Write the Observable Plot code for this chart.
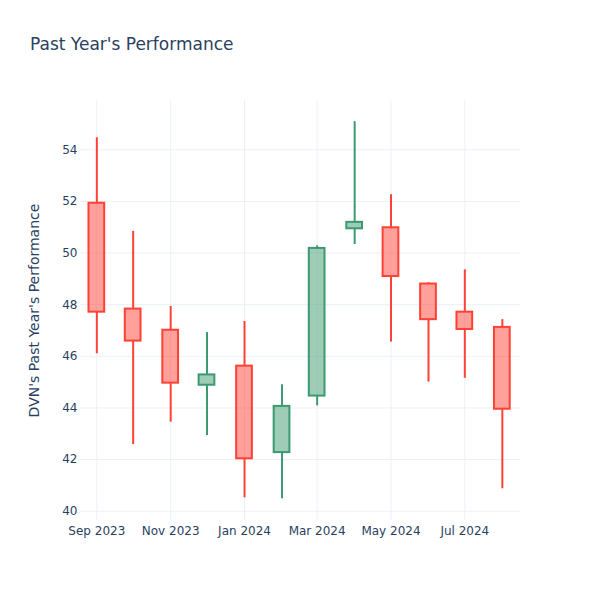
<!DOCTYPE html>
<html><head><meta charset="utf-8">
<script src="https://cdn.jsdelivr.net/npm/d3@7"></script>
<script src="https://cdn.jsdelivr.net/npm/@observablehq/plot@0.6"></script>
<style>
body{margin:0;background:#fff;}
#wrap{position:relative;width:600px;height:600px;}
#title{position:absolute;left:30px;top:34px;font-family:"DejaVu Sans",sans-serif;font-size:17px;color:#2a3f5f;white-space:nowrap;}
</style></head><body>
<div id="wrap"><div id="title">Past Year's Performance</div></div>
<script>
const dates  = ["2023-09-01","2023-10-01","2023-11-01","2023-12-01","2024-01-01","2024-02-01","2024-03-01","2024-04-01","2024-05-01","2024-06-01","2024-07-01","2024-08-01"];
const opens  = [51.93, 47.83, 47.01, 44.88, 45.62, 42.27, 44.46, 50.94, 50.98, 48.80, 47.71, 47.12];
const highs  = [54.47, 50.84, 47.93, 46.92, 47.35, 44.90, 50.28, 55.09, 52.26, 48.85, 49.35, 47.42];
const lows   = [46.10, 42.58, 43.45, 42.93, 40.52, 40.48, 44.08, 50.33, 46.55, 45.00, 45.15, 40.87];
const closes = [47.71, 46.59, 44.96, 45.28, 42.03, 44.06, 50.18, 51.19, 49.09, 47.42, 47.04, 43.95];
const yTicks = [40, 42, 44, 46, 48, 50, 52, 54];
const xTicks = ["2023-09-01","2023-11-01","2024-01-01","2024-03-01","2024-05-01","2024-07-01"];
const xDomain = ["2023-08-18T12:00:00Z", "2024-08-16T00:00:00Z"];
const yDomain = [39.64, 55.91];
const yLabel = "DVN's Past Year's Performance";

const incColor = "#3D9970", decColor = "#FF4136";
const halfDays = 6.5;
const data = dates.map((d, i) => ({
  date: new Date(d), open: opens[i], high: highs[i], low: lows[i], close: closes[i]
}));
const off = (d, k) => new Date(d.getTime() + k * 864e5);
const inc = data.filter(d => d.close >= d.open);
const dec = data.filter(d => d.close < d.open);

function candles(arr, color) {
  return [
    Plot.ruleX(arr, {x: "date", y1: "high", y2: d => Math.max(d.open, d.close), stroke: color, strokeWidth: 2}),
    Plot.ruleX(arr, {x: "date", y1: d => Math.min(d.open, d.close), y2: "low", stroke: color, strokeWidth: 2}),
    Plot.rect(arr, {x1: d => off(d.date, -halfDays), x2: d => off(d.date, halfDays), y1: "open", y2: "close",
      fill: color, fillOpacity: 0.5, stroke: color, strokeWidth: 2})
  ];
}

const chart = Plot.plot({
  width: 600, height: 600,
  marginLeft: 80, marginRight: 80, marginTop: 100, marginBottom: 80,
  style: {fontFamily: "DejaVu Sans, sans-serif", fontSize: "12px", color: "#2a3f5f", background: "transparent"},
  x: {type: "utc", domain: xDomain.map(d => new Date(d))},
  y: {domain: yDomain},
  marks: [
    Plot.gridY(yTicks, {stroke: "#EBF0F8", strokeOpacity: 1, strokeWidth: 1}),
    Plot.gridX(xTicks.map(d => new Date(d)), {stroke: "#EBF0F8", strokeOpacity: 1, strokeWidth: 1}),
    Plot.axisY(yTicks, {tickSize: 0, tickPadding: 3, label: null, fontSize: 12}),
    Plot.axisY([], {tickSize: 0, label: yLabel, labelAnchor: "center", labelArrow: "none", labelOffset: 51, fontSize: 14}),
    Plot.axisX(xTicks.map(d => new Date(d)), {tickSize: 0, tickPadding: 6, tickFormat: d3.utcFormat("%b %Y"), label: null, fontSize: 12}),
    ...candles(inc, incColor),
    ...candles(dec, decColor)
  ]
});
chart.style.position = "absolute";
chart.style.left = "0";
chart.style.top = "0";
document.getElementById("wrap").appendChild(chart);
</script>
</body></html>
